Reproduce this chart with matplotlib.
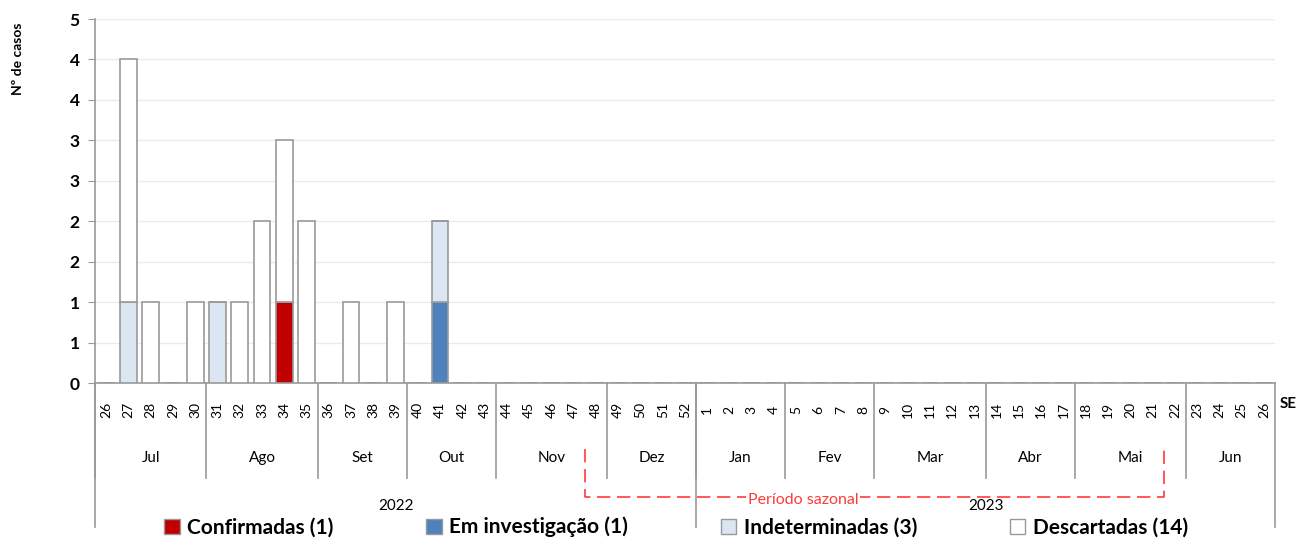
import matplotlib.pyplot as plt
from matplotlib.patches import Patch
from matplotlib.transforms import blended_transform_factory

# semanas epidemiológicas (jul/2022 a jun/2023)
weeks = [26, 27, 28, 29, 30, 31, 32, 33, 34, 35, 36, 37, 38, 39, 40, 41, 42, 43,
         44, 45, 46, 47, 48, 49, 50, 51, 52, 1, 2, 3, 4, 5, 6, 7, 8, 9, 10, 11,
         12, 13, 14, 15, 16, 17, 18, 19, 20, 21, 22, 23, 24, 25, 26]
months = ["Jul", "Ago", "Set", "Out", "Nov", "Dez",
          "Jan", "Fev", "Mar", "Abr", "Mai", "Jun"]
weeks_per_month = [5, 5, 4, 4, 5, 4, 4, 4, 5, 4, 5, 4]
years = ["2022", "2023"]
weeks_per_year = [27, 26]

# casos por semana (mesma ordem de weeks)
confirmadas = [0, 0, 0, 0, 0, 0, 0, 0, 1, 0, 0, 0, 0, 0, 0, 0, 0, 0] + [0] * 35
investigacao = [0, 0, 0, 0, 0, 0, 0, 0, 0, 0, 0, 0, 0, 0, 0, 1, 0, 0] + [0] * 35
indeterminadas = [0, 1, 0, 0, 0, 1, 0, 0, 0, 0, 0, 0, 0, 0, 0, 1, 0, 0] + [0] * 35
descartadas = [0, 3, 1, 0, 1, 0, 1, 2, 2, 2, 0, 1, 0, 1, 0, 0, 0, 0] + [0] * 35

y_ticks = [0, 0.5, 1, 1.5, 2, 2.5, 3, 3.5, 4, 4.5]
y_ticklabels = ["0", "1", "1", "2", "2", "3", "3", "4", "4", "5"]

plt.rcParams["font.family"] = ["Lato", "DejaVu Sans"]

fig = plt.figure(figsize=(12.97, 5.39), dpi=100)
ax = fig.add_axes([95 / 1297, 156 / 539, 1180 / 1297, 364 / 539])

x = list(range(len(weeks)))
edge = "#999999"
series = [
    (confirmadas, "#C00000", "Confirmadas (1)"),
    (investigacao, "#4F81BD", "Em investigação (1)"),
    (indeterminadas, "#DCE6F2", "Indeterminadas (3)"),
    (descartadas, "#FFFFFF", "Descartadas (14)"),
]
bottom = [0] * len(weeks)
handles = []
for vals, color, label in series:
    ax.bar(x, vals, bottom=bottom, width=0.75, color=color,
           edgecolor=edge, linewidth=1.2, zorder=3)
    bottom = [b + v for b, v in zip(bottom, vals)]
    handles.append(Patch(facecolor=color, edgecolor=edge, linewidth=1, label=label))

ax.set_xlim(-0.5, len(weeks) - 0.5)
ax.set_ylim(0, 4.5)
ax.set_yticks(y_ticks)
ax.set_yticklabels(y_ticklabels, fontweight="bold", fontsize=12.5)
ax.tick_params(axis="y", length=5, color=edge, pad=6)
ax.set_xticks([])
ax.yaxis.grid(True, color="#ebebeb", linewidth=1, zorder=0)
ax.set_axisbelow(True)
for s in ["top", "right"]:
    ax.spines[s].set_visible(False)
for s in ["left", "bottom"]:
    ax.spines[s].set_color(edge)
    ax.spines[s].set_linewidth(1.2)

ax.set_ylabel("Nº de casos", fontweight="bold", fontsize=10)
ax.yaxis.set_label_coords(-71 / 1180, 0.89)

trans = blended_transform_factory(ax.transData, ax.transAxes)

# rótulos das semanas
for i, w in enumerate(weeks):
    ax.text(i, -0.074, str(w), rotation=90, ha="center", va="center",
            fontsize=10, transform=trans)
ax.text(1.004, -0.058, "SE", fontweight="bold", fontsize=11,
        ha="left", va="center", transform=ax.transAxes)

# meses
start = -0.5
for m, n in zip(months, weeks_per_month):
    ax.text(start + n / 2, -0.206, m, ha="center", va="center",
            fontsize=11, transform=trans)
    ax.plot([start, start], [0, -0.261], color=edge, lw=1.2,
            transform=trans, clip_on=False)
    start += n
ax.plot([start, start], [0, -0.396], color=edge, lw=1.2,
        transform=trans, clip_on=False)

# anos
start = -0.5
for yr, n in zip(years, weeks_per_year):
    ax.text(start + n / 2, -0.338, yr, ha="center", va="center",
            fontsize=11, transform=trans)
    ax.plot([start, start], [0, -0.396], color=edge, lw=1.2,
            transform=trans, clip_on=False)
    start += n

# período sazonal
p0 = weeks.index(48) - 0.5
p1 = weeks.index(21) + 0.5
red = "#FF3B3B"
ax.plot([p0, p0, p1, p1], [-0.181, -0.313, -0.313, -0.181], color=red,
        lw=1.2, ls=(0, (8, 4)), transform=trans, clip_on=False)
ax.text(31.3, -0.322, "Período sazonal", color=red, ha="center", va="center",
        fontsize=11.5, transform=trans,
        bbox=dict(facecolor="white", edgecolor="none", pad=1))

leg = ax.legend(handles=handles, loc="center", bbox_to_anchor=(0.4924, -0.396),
                ncol=4, frameon=False, handlelength=0.75, handleheight=0.75,
                handletextpad=0.35, columnspacing=4.45,
                prop={"weight": "bold", "size": 15})

fig.savefig("out.png", dpi=100)
